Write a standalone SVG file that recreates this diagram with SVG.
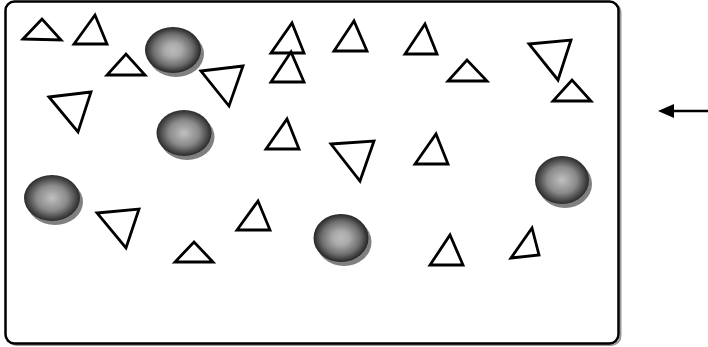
<svg xmlns="http://www.w3.org/2000/svg" width="708" height="347" viewBox="0 0 708 347">
<defs>
<radialGradient id="ball" cx="0.5" cy="0.5" r="0.5">
<stop offset="0" stop-color="#c0c0c0"/>
<stop offset="0.55" stop-color="#8a8a8a"/>
<stop offset="1" stop-color="#2a2a2a"/>
</radialGradient>
<radialGradient id="ballq" cx="0.5" cy="0.5" r="0.5">
<stop offset="0" stop-color="#bababa"/>
<stop offset="0.3" stop-color="#aaaaaa"/>
<stop offset="0.7" stop-color="#6e6e6e"/>
<stop offset="1" stop-color="#252525"/>
</radialGradient>
</defs>
<style>
.tri{fill:#fff;stroke:#000;stroke-width:2.8;stroke-linejoin:miter}
.sh{fill:#808080}
.b{fill:url(#ball)}
.bq{fill:url(#ballq)}
</style>
<g id="frame">
<rect x="7.5" y="3" width="613" height="342" rx="9" fill="none" stroke="#999" stroke-width="2"/>
<rect x="5.5" y="1.5" width="613" height="342" rx="9" fill="#fff" stroke="#000" stroke-width="2.5"/>
</g>
<g id="triangles">
<polygon class="tri" points="23,39 61,40 42,19"/>
<polygon class="tri" points="74,44 107,44 95,15"/>
<polygon class="tri" points="107,75 145,75 126,54"/>
<polygon class="tri" points="49,97 91,92 78,132"/>
<polygon class="tri" points="201,71 243,66 229,106"/>
<polygon class="tri" points="271,53 304,53 292,23"/>
<polygon class="tri" points="271,82 304,82 291,52"/>
<polygon class="tri" points="334,51 367,51 354,21"/>
<polygon class="tri" points="405,54 437,54 425,24"/>
<polygon class="tri" points="448,81 487,81 467,60"/>
<polygon class="tri" points="529,44 571,40 558,80"/>
<polygon class="tri" points="553,101 591,101 572,80"/>
<polygon class="tri" points="97,213 139,209 126,248"/>
<polygon class="tri" points="266,149 299,149 287,119"/>
<polygon class="tri" points="331,144 374,141 360,181"/>
<polygon class="tri" points="415,164 448,164 436,134"/>
<polygon class="tri" points="175,262 213,262 194,242"/>
<polygon class="tri" points="237,230 270,230 258,201"/>
<polygon class="tri" points="430,265 463,265 450,235"/>
<polygon class="tri" points="511,258 539,255 532,228"/>
</g>
<g id="ball1"><ellipse class="sh" cx="176" cy="54" rx="28" ry="23"/><ellipse class="bq" cx="173" cy="50" rx="28" ry="23"/></g>
<g id="ball2"><ellipse class="sh" cx="187" cy="137" rx="27.5" ry="23"/><ellipse class="b" cx="184" cy="133" rx="27.5" ry="23"/></g>
<g id="ball3"><ellipse class="sh" cx="55" cy="202" rx="28" ry="23"/><ellipse class="b" cx="52" cy="198" rx="28" ry="23"/></g>
<g id="ball4"><ellipse class="sh" cx="344" cy="242" rx="27.5" ry="24"/><ellipse class="bq" cx="341" cy="238" rx="27.5" ry="24"/></g>
<g id="ball5"><ellipse class="sh" cx="565" cy="184" rx="27" ry="24"/><ellipse class="b" cx="562" cy="180" rx="27" ry="24"/></g>
<g id="connectors">
<line x1="708" y1="111" x2="672" y2="111" stroke="#000" stroke-width="2.5"/>
<path d="M658,111 L674,104 L674,118 Z" fill="#000"/>
</g>
</svg>
